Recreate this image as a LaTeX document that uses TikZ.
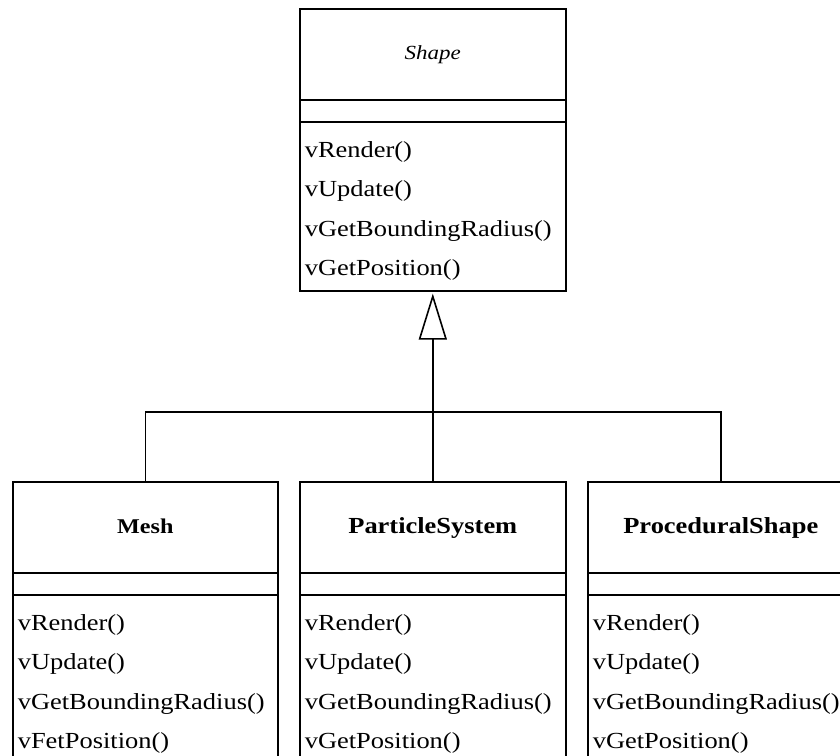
\documentclass[tikz,border=0pt]{standalone}
\usepackage{fontspec}
\setmainfont{Liberation Serif}[FakeStretch=1.15]
\usetikzlibrary{arrows.meta}
\begin{document}
\begin{tikzpicture}[x=1pt,y=1pt,line width=1.6pt,
  classbox/.style={draw, rectangle, inner sep=0pt, anchor=north west,
    minimum width=266pt, minimum height=300pt},
  classname/.style={anchor=base, inner sep=0pt, font=\fontsize{23}{26}\selectfont\bfseries},
  method/.style={anchor=base west, inner sep=0pt, font=\fontsize{23}{26}\selectfont},
  inherit/.style={-{Triangle[open, width=28pt, length=46pt]}}]
\useasboundingbox (0,0) rectangle (840,-755);
\clip (0,0) rectangle (840,-755);

% abstract base class
\node[classbox, minimum height=282pt] (shape) at (299,-8) {};
\node[classname, font=\fontsize{20}{23}\selectfont\itshape] (shapename)
  at ([yshift=-51pt]shape.north) {Shape};

% derived classes
\node[classbox, minimum width=265pt] (mesh) at (12,-481) {};
\node[classbox] (psys) at (299,-481) {};
\node[classbox] (proc) at (587,-481) {};
\node[classname, font=\fontsize{21}{24}\selectfont\bfseries] (meshname)
  at ([yshift=-52pt]mesh.north) {Mesh};
\node[classname] (psysname) at ([yshift=-52pt]psys.north) {ParticleSystem};
\node[classname] (procname) at ([yshift=-52pt]proc.north) {ProceduralShape};

% compartment separators
\foreach \c in {shape,mesh,psys,proc}{
  \draw ([yshift=-92pt]\c.north west) -- ([yshift=-92pt]\c.north east);
  \draw ([yshift=-114pt]\c.north west) -- ([yshift=-114pt]\c.north east);
}

% operations
\foreach \c/\last in {shape/vGetPosition(), mesh/vFetPosition(),
                      psys/vGetPosition(), proc/vGetPosition()}{
  \node[method] (\c-op1) at ([xshift=5pt,yshift=-149pt]\c.north west) {vRender()};
  \node[method] (\c-op2) at ([xshift=5pt,yshift=-188.5pt]\c.north west) {vUpdate()};
  \node[method] (\c-op3) at ([xshift=5pt,yshift=-228pt]\c.north west) {vGetBoundingRadius()};
  \node[method] (\c-op4) at ([xshift=5pt,yshift=-267.5pt]\c.north west) {\last};
}

% generalization
\coordinate (bus) at (psys.north |- 0,-412);
\draw[inherit] (psys.north) -- ([yshift=-2pt]shape.south);
\draw (mesh.north) |- (bus) -| (proc.north);
\end{tikzpicture}
\end{document}
